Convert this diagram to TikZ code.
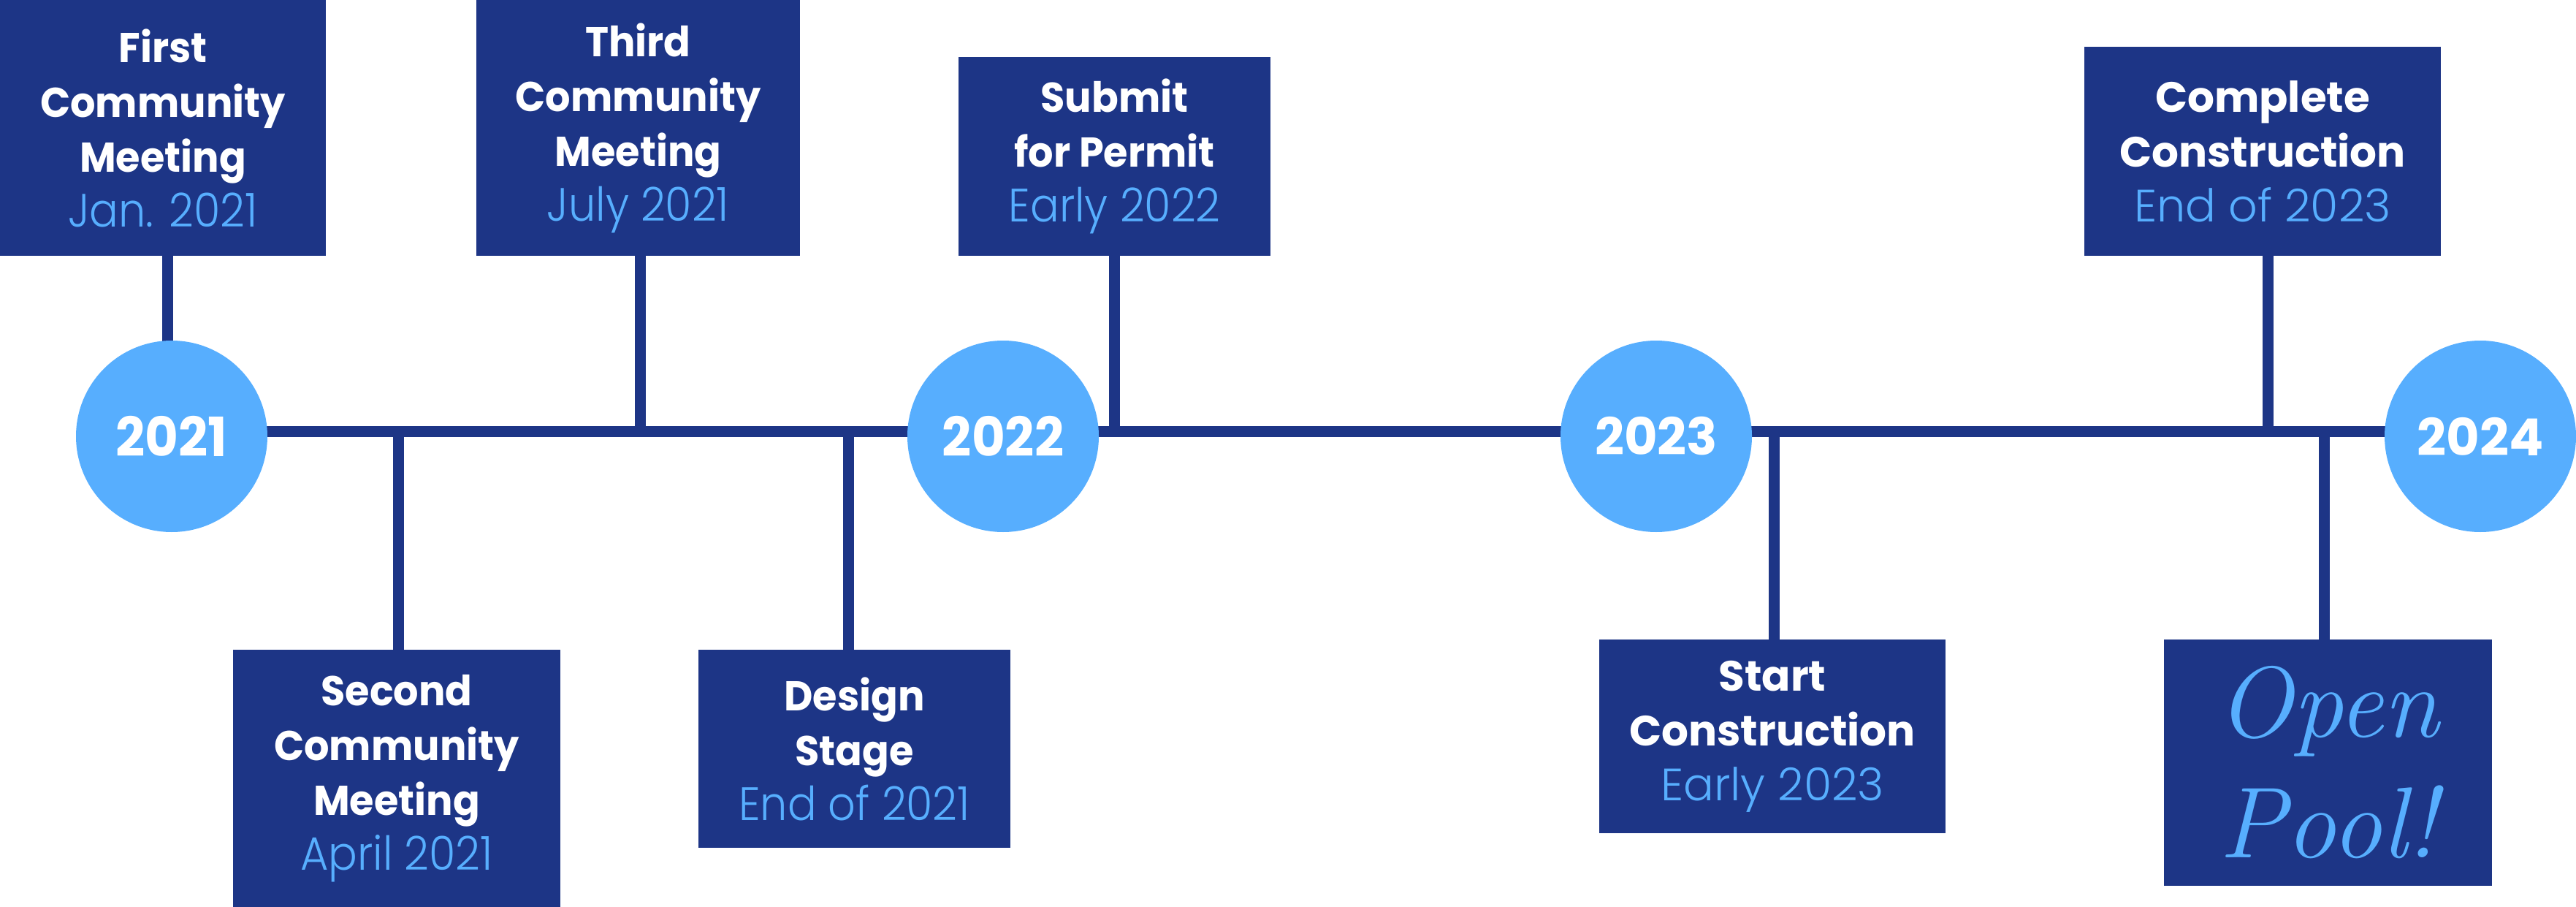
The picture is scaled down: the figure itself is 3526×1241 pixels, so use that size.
\documentclass[tikz,border=0pt]{standalone}
\usepackage{fontspec}
\newfontfamily\popn{Poppins}[FakeStretch=0.95]
\newfontfamily\popw{Poppins}
\newfontfamily\poplight{Poppins Light}
\newfontfamily\poplightn{Poppins Light}[FakeStretch=0.92]
\definecolor{navy}{HTML}{1D3586}
\definecolor{sky}{HTML}{57AEFE}
\pgfdeclarelayer{bg}
\pgfsetlayers{bg,main}
\tikzset{
  box/.style={fill=navy, inner sep=0pt, align=center, text=white},
  futbox/.style={box, font=\popn\bfseries\fontsize{57}{75}\selectfont},
  widebox/.style={box, font=\popw\bfseries\fontsize{58}{75}\selectfont},
  yearn/.style={circle, fill=sky, minimum size=262pt, inner sep=0pt, text=white, font=\popn\bfseries\fontsize{74}{74}\selectfont},
  yearw/.style={circle, fill=sky, minimum size=262pt, inner sep=0pt, text=white, font=\popw\bfseries\fontsize{70}{70}\selectfont},
  tline/.style={draw=navy, line width=15pt},
}
\newcommand{\datn}[1]{{\poplightn\mdseries\color{sky}\fontsize{64}{75}\selectfont #1}}
\newcommand{\datw}[1]{{\poplight\mdseries\color{sky}\fontsize{62}{75}\selectfont #1}}
\begin{document}
\begin{tikzpicture}[x=1pt, y=-1pt]
\useasboundingbox (0,0) rectangle (3526,1241);
\coordinate (tl) at (0,590);
% boxes
\node[futbox, minimum width=446pt, minimum height=350pt] (first) at (223,175) {First\\Community\\Meeting\\\datn{Jan. 2021}};
\node[futbox, minimum width=443pt, minimum height=350pt] (third) at (873.5,175) {Third\\Community\\Meeting\\\datn{July 2021}};
\node[futbox, minimum width=427pt, minimum height=272pt] (submit) at (1525.5,214) {Submit\\for Permit\\\datn{Early 2022}};
\node[widebox, minimum width=488pt, minimum height=286pt] (complete) at (3097,207) {Complete\\Construction\\\datw{End of 2023}};
\node[futbox, minimum width=448pt, minimum height=352pt] (second) at (543,1065) {Second\\Community\\Meeting\\\datn{April 2021}};
\node[futbox, minimum width=427pt, minimum height=271pt] (design) at (1169.5,1024.5) {Design\\Stage\\\datn{End of 2021}};
\node[widebox, minimum width=474pt, minimum height=265pt] (start) at (2426,1007.5) {Start\\Construction\\\datw{Early 2023}};
\node[box, minimum width=449pt, minimum height=337pt, text=sky, font=\rmfamily\itshape\fontsize{138}{165}\selectfont] (open) at (3186.5,1043.5) {Open\\Pool!};
% year circles
\node[yearn] (c21) at (235,597) {2021};
\node[yearn] (c22) at (1373,597) {2022};
\node[yearw] (c23) at (2267,597) {2023};
\node[yearw] (c24) at (3395,597) {2024};
% connectors
\begin{pgfonlayer}{bg}
\draw[tline] (c21 |- tl) -- (c24 |- tl);
\draw[tline] ([xshift=6pt]first.south) -- ([xshift=6pt]first.south |- tl);
\draw[tline] ([xshift=2.5pt]third.south) -- ([xshift=2.5pt]third.south |- tl);
\draw[tline] (submit.south) -- (submit.south |- tl);
\draw[tline] ([xshift=7pt]complete.south) -- ([xshift=7pt]complete.south |- tl);
\draw[tline] ([xshift=2pt]second.north |- tl) -- ([xshift=2pt]second.north);
\draw[tline] ([xshift=-8.5pt]design.north |- tl) -- ([xshift=-8.5pt]design.north);
\draw[tline] ([xshift=2pt]start.north |- tl) -- ([xshift=2pt]start.north);
\draw[tline] ([xshift=-5.5pt]open.north |- tl) -- ([xshift=-5.5pt]open.north);
\end{pgfonlayer}
\end{tikzpicture}
\end{document}
